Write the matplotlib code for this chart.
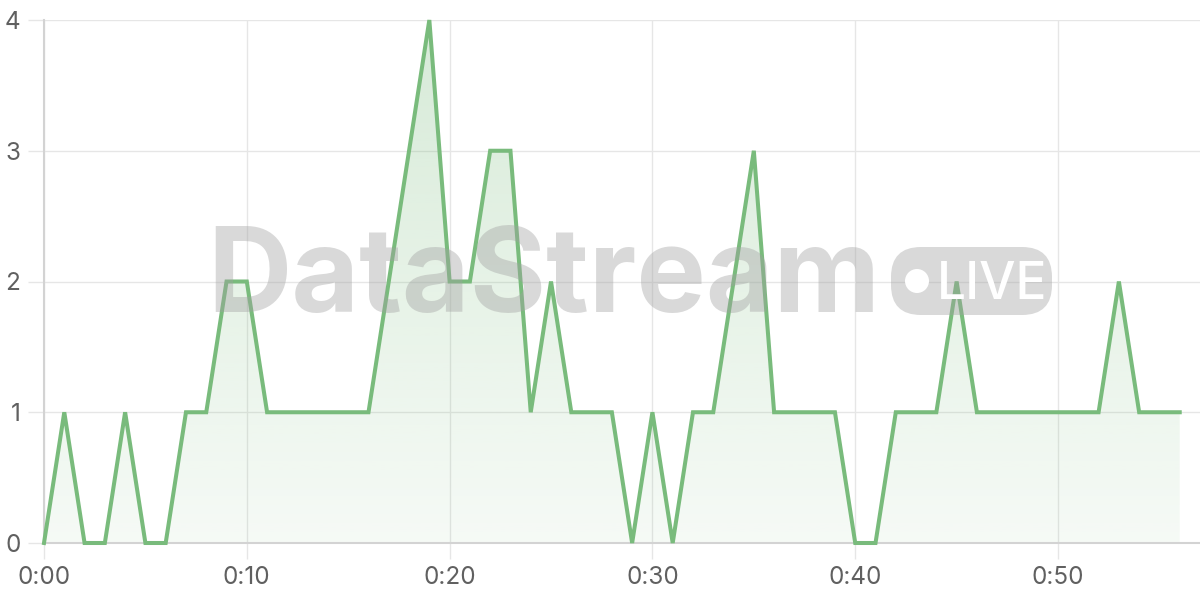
import matplotlib.pyplot as plt
import numpy as np
from matplotlib.patches import FancyBboxPatch, Circle, Polygon

# counts per minute
minutes = np.arange(57)
counts = [0, 1, 0, 0, 1, 0, 0, 1, 1, 2, 2, 1, 1, 1, 1, 1, 1, 2, 3, 4,
          2, 2, 3, 3, 1, 2, 1, 1, 1, 0, 1, 0, 1, 1, 2, 3, 1, 1, 1, 1,
          0, 0, 1, 1, 1, 2, 1, 1, 1, 1, 1, 1, 1, 2, 1, 1, 1]
x_ticks = [0, 10, 20, 30, 40, 50]
x_labels = ['0:00', '0:10', '0:20', '0:30', '0:40', '0:50']
y_ticks = [0, 1, 2, 3, 4]

green = '#79bb7c'
grid_c = '#e6e6e6'
text_c = '#606060'

plt.rcParams['font.family'] = ['Inter', 'DejaVu Sans']

fig = plt.figure(figsize=(12, 6), dpi=100)
ax = fig.add_axes([44 / 1200, 57 / 600, 1156 / 1200, 523 / 600])

ax.set_xlim(0, 57)
ax.set_ylim(0, 4)

# gradient fill under the line
poly = Polygon(list(zip(minutes, counts)) + [(minutes[-1], 0), (0, 0)],
               closed=True, facecolor='none', edgecolor='none')
ax.add_patch(poly)
grad = np.zeros((256, 1, 4))
grad[:, 0, :3] = np.array([121, 187, 124]) / 255
grad[:, 0, 3] = np.linspace(0.07, 0.3, 256)
im = ax.imshow(grad, extent=[0, minutes[-1], 0, 4], origin='lower',
               aspect='auto', zorder=1)
im.set_clip_path(poly)

ax.plot(minutes, counts, color=green, lw=2.9, zorder=4, clip_on=False,
        solid_joinstyle='miter')

ax.set_xticks(x_ticks)
ax.set_xticklabels(x_labels)
ax.set_yticks(y_ticks)
ax.grid(True, color=grid_c, lw=1, zorder=0)
ax.set_axisbelow(True)
# tick sizes are in points (1 pt = 1.39 px at 100 dpi)
ax.tick_params(axis='both', colors=grid_c, labelcolor=text_c, labelsize=17.5,
               length=11.5, width=1)
ax.tick_params(axis='x', pad=5)
ax.tick_params(axis='y', pad=5.5)
for s in ['top', 'right']:
    ax.spines[s].set_visible(False)
for s in ['left', 'bottom']:
    ax.spines[s].set_color('#d3d3d3')
    ax.spines[s].set_linewidth(1.5)

# watermark
def px(x, y):
    return (x / 100, (600 - y) / 100)

fig.text(*px(207, 312), 'DataStream', transform=fig.dpi_scale_trans,
         fontsize=84, fontweight='bold', color='#a0a0a0', alpha=0.4,
         ha='left', va='baseline', zorder=2)
badge = FancyBboxPatch(px(891, 315), 1.61, 0.68,
                       boxstyle='round,pad=0,rounding_size=0.3',
                       transform=fig.dpi_scale_trans, facecolor='#a0a0a0',
                       edgecolor='none', alpha=0.4, zorder=2)
fig.add_artist(badge)
fig.add_artist(Circle(px(917, 281), 0.12, transform=fig.dpi_scale_trans,
                      facecolor='white', edgecolor='none', zorder=3))
fig.text(*px(937, 299), 'LIVE', transform=fig.dpi_scale_trans,
         fontsize=37, fontweight='medium', color='white',
         ha='left', va='baseline', zorder=3)

fig.savefig('out.png', dpi=100)
